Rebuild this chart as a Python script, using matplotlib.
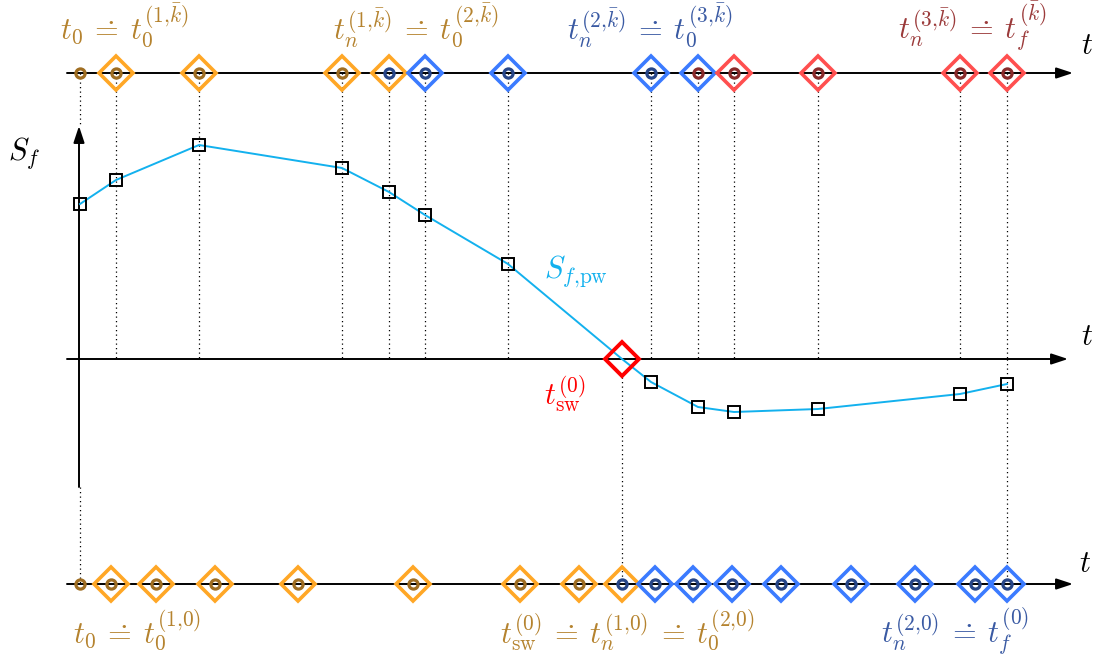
import matplotlib.pyplot as plt

plt.rcParams["mathtext.fontset"] = "cm"

# upper timeline: subinterval grid for iteration k-bar
top_t = [80, 116, 199, 342, 389, 425, 508, 651, 698, 734, 818, 960, 1007]
top_box = ["", "o", "o", "o", "o", "b", "b", "b", "b", "r", "r", "r", "r"]
top_dot = ["o", "o", "o", "o", "b", "b", "b", "b", "r", "r", "r", "r", "r"]

# lower timeline: subinterval grid for iteration 0
bot_t = [80, 111, 156, 215, 298, 413, 520, 579, 622, 655, 693, 732, 781, 851, 915, 975, 1007]
bot_box = ["", "o", "o", "o", "o", "o", "o", "o", "o", "b", "b", "b", "b", "b", "b", "b", "b"]
bot_dot = ["o", "o", "o", "o", "o", "o", "o", "o", "b", "b", "b", "b", "b", "b", "b", "b", "b"]

# piecewise switching function S_f,pw
curve_t = [80, 116, 199, 342, 389, 425, 508, 622, 651, 698, 734, 818, 960, 1007]
curve_s = [155, 179, 214, 191, 167, 144, 95, 0, -23, -48, -53, -50, -35, -25]
t_sw = 622

box_col = {"o": "#FFA726", "b": "#3B7BFF", "r": "#FF4F4F"}
dot_col = {"o": "#A06E22", "b": "#274689", "r": "#8A2A2A"}
txt_col = {"o": "#B5832F", "b": "#3A5AA3", "r": "#9B3A3A"}

y_top, y_mid, y_bot = 286, 0, -225

fig = plt.figure(figsize=(10.99, 6.66), dpi=100)
ax = fig.add_axes([0, 0, 1, 1])
ax.set_xlim(0, 1099)
ax.set_ylim(-307, 359)
ax.axis("off")

arrow = dict(arrowstyle="-|>,head_length=1.0,head_width=0.33", lw=1.4,
             color="black", shrinkA=0, shrinkB=0)

# axes
ax.annotate("", xy=(1073, y_top), xytext=(67, y_top), arrowprops=arrow, zorder=2)
ax.annotate("", xy=(1068, y_mid), xytext=(67, y_mid), arrowprops=arrow, zorder=2)
ax.annotate("", xy=(1073, y_bot), xytext=(67, y_bot), arrowprops=arrow, zorder=2)
ax.annotate("", xy=(79, 233), xytext=(79, -128), arrowprops=arrow, zorder=2)

dots = dict(color="black", lw=0.9, ls=(0, (1, 2.6)), zorder=1)
for t in top_t[1:]:
    ax.plot([t, t], [y_top, y_mid], **dots)
ax.plot([top_t[0], top_t[0]], [y_top, 233], **dots)
ax.plot([80, 80], [-128, y_bot], **dots)
ax.plot([t_sw, t_sw], [y_mid - 18, y_bot], **dots)
ax.plot([1007, 1007], [y_mid, y_bot], **dots)

# curve
ax.plot(curve_t, curve_s, color="#13B1EE", lw=1.4, zorder=3)
sq_t = [t for t in curve_t if t != t_sw]
sq_s = [s for t, s in zip(curve_t, curve_s) if t != t_sw]
ax.plot(sq_t, sq_s, ls="none", marker="s", ms=8.8, mfc="none", mec="black",
        mew=1.4, zorder=5)
ax.plot([t_sw], [0], ls="none", marker="D", ms=17.5, mfc="none", mec="#FF0000",
        mew=2.8, zorder=4)

# timeline markers
for ts, y, boxes, rings in [(top_t, y_top, top_box, top_dot),
                            (bot_t, y_bot, bot_box, bot_dot)]:
    for t, b, r in zip(ts, boxes, rings):
        if b:
            ax.plot([t], [y], marker="D", ms=17, mfc="none", mec=box_col[b],
                    mew=2.6, zorder=4)
        ax.plot([t], [y], marker="o", ms=6.6, mfc="none", mec=dot_col[r],
                mew=2.3, zorder=6)

fs = 22
eq = r"\:\dot{=}\:"
kb = r"{,}\bar{k})}"
ax.text(60, 320, r"$t_0" + eq + r"t_0^{(1" + kb + "$", color=txt_col["o"], fontsize=fs, va="baseline")
ax.text(333, 320, r"$t_n^{(1" + kb + eq + r"t_0^{(2" + kb + "$", color=txt_col["o"], fontsize=fs, va="baseline")
ax.text(567, 320, r"$t_n^{(2" + kb + eq + r"t_0^{(3" + kb + "$", color=txt_col["b"], fontsize=fs, va="baseline")
ax.text(898, 320, r"$t_n^{(3" + kb + eq + r"t_f^{(\bar{k})}$", color=txt_col["r"], fontsize=fs, va="baseline")

ax.text(73, -284, r"$t_0" + eq + r"t_0^{(1{,}0)}$", color=txt_col["o"], fontsize=fs, va="baseline")
ax.text(500, -284, r"$t_{\mathrm{sw}}^{(0)}" + eq + r"t_n^{(1{,}0)}" + eq + r"t_0^{(2{,}0)}$", color=txt_col["o"], fontsize=fs, va="baseline")
ax.text(881, -284, r"$t_n^{(2{,}0)}" + eq + r"t_f^{(0)}$", color=txt_col["b"], fontsize=fs, va="baseline")

ax.text(544, 81, r"$S_{f{,}\mathrm{pw}}$", color="#13B1EE", fontsize=fs, va="baseline")
ax.text(544, -46, r"$t_{\mathrm{sw}}^{(0)}$", color="#FF0000", fontsize=fs, va="baseline")

ax.text(1081, 305, r"$t$", fontsize=fs, va="baseline")
ax.text(1081, 14, r"$t$", fontsize=fs, va="baseline")
ax.text(1079, -213, r"$t$", fontsize=fs, va="baseline")
ax.text(8, 199, r"$S_f$", fontsize=fs, va="baseline")

fig.savefig("out.png", dpi=100)
